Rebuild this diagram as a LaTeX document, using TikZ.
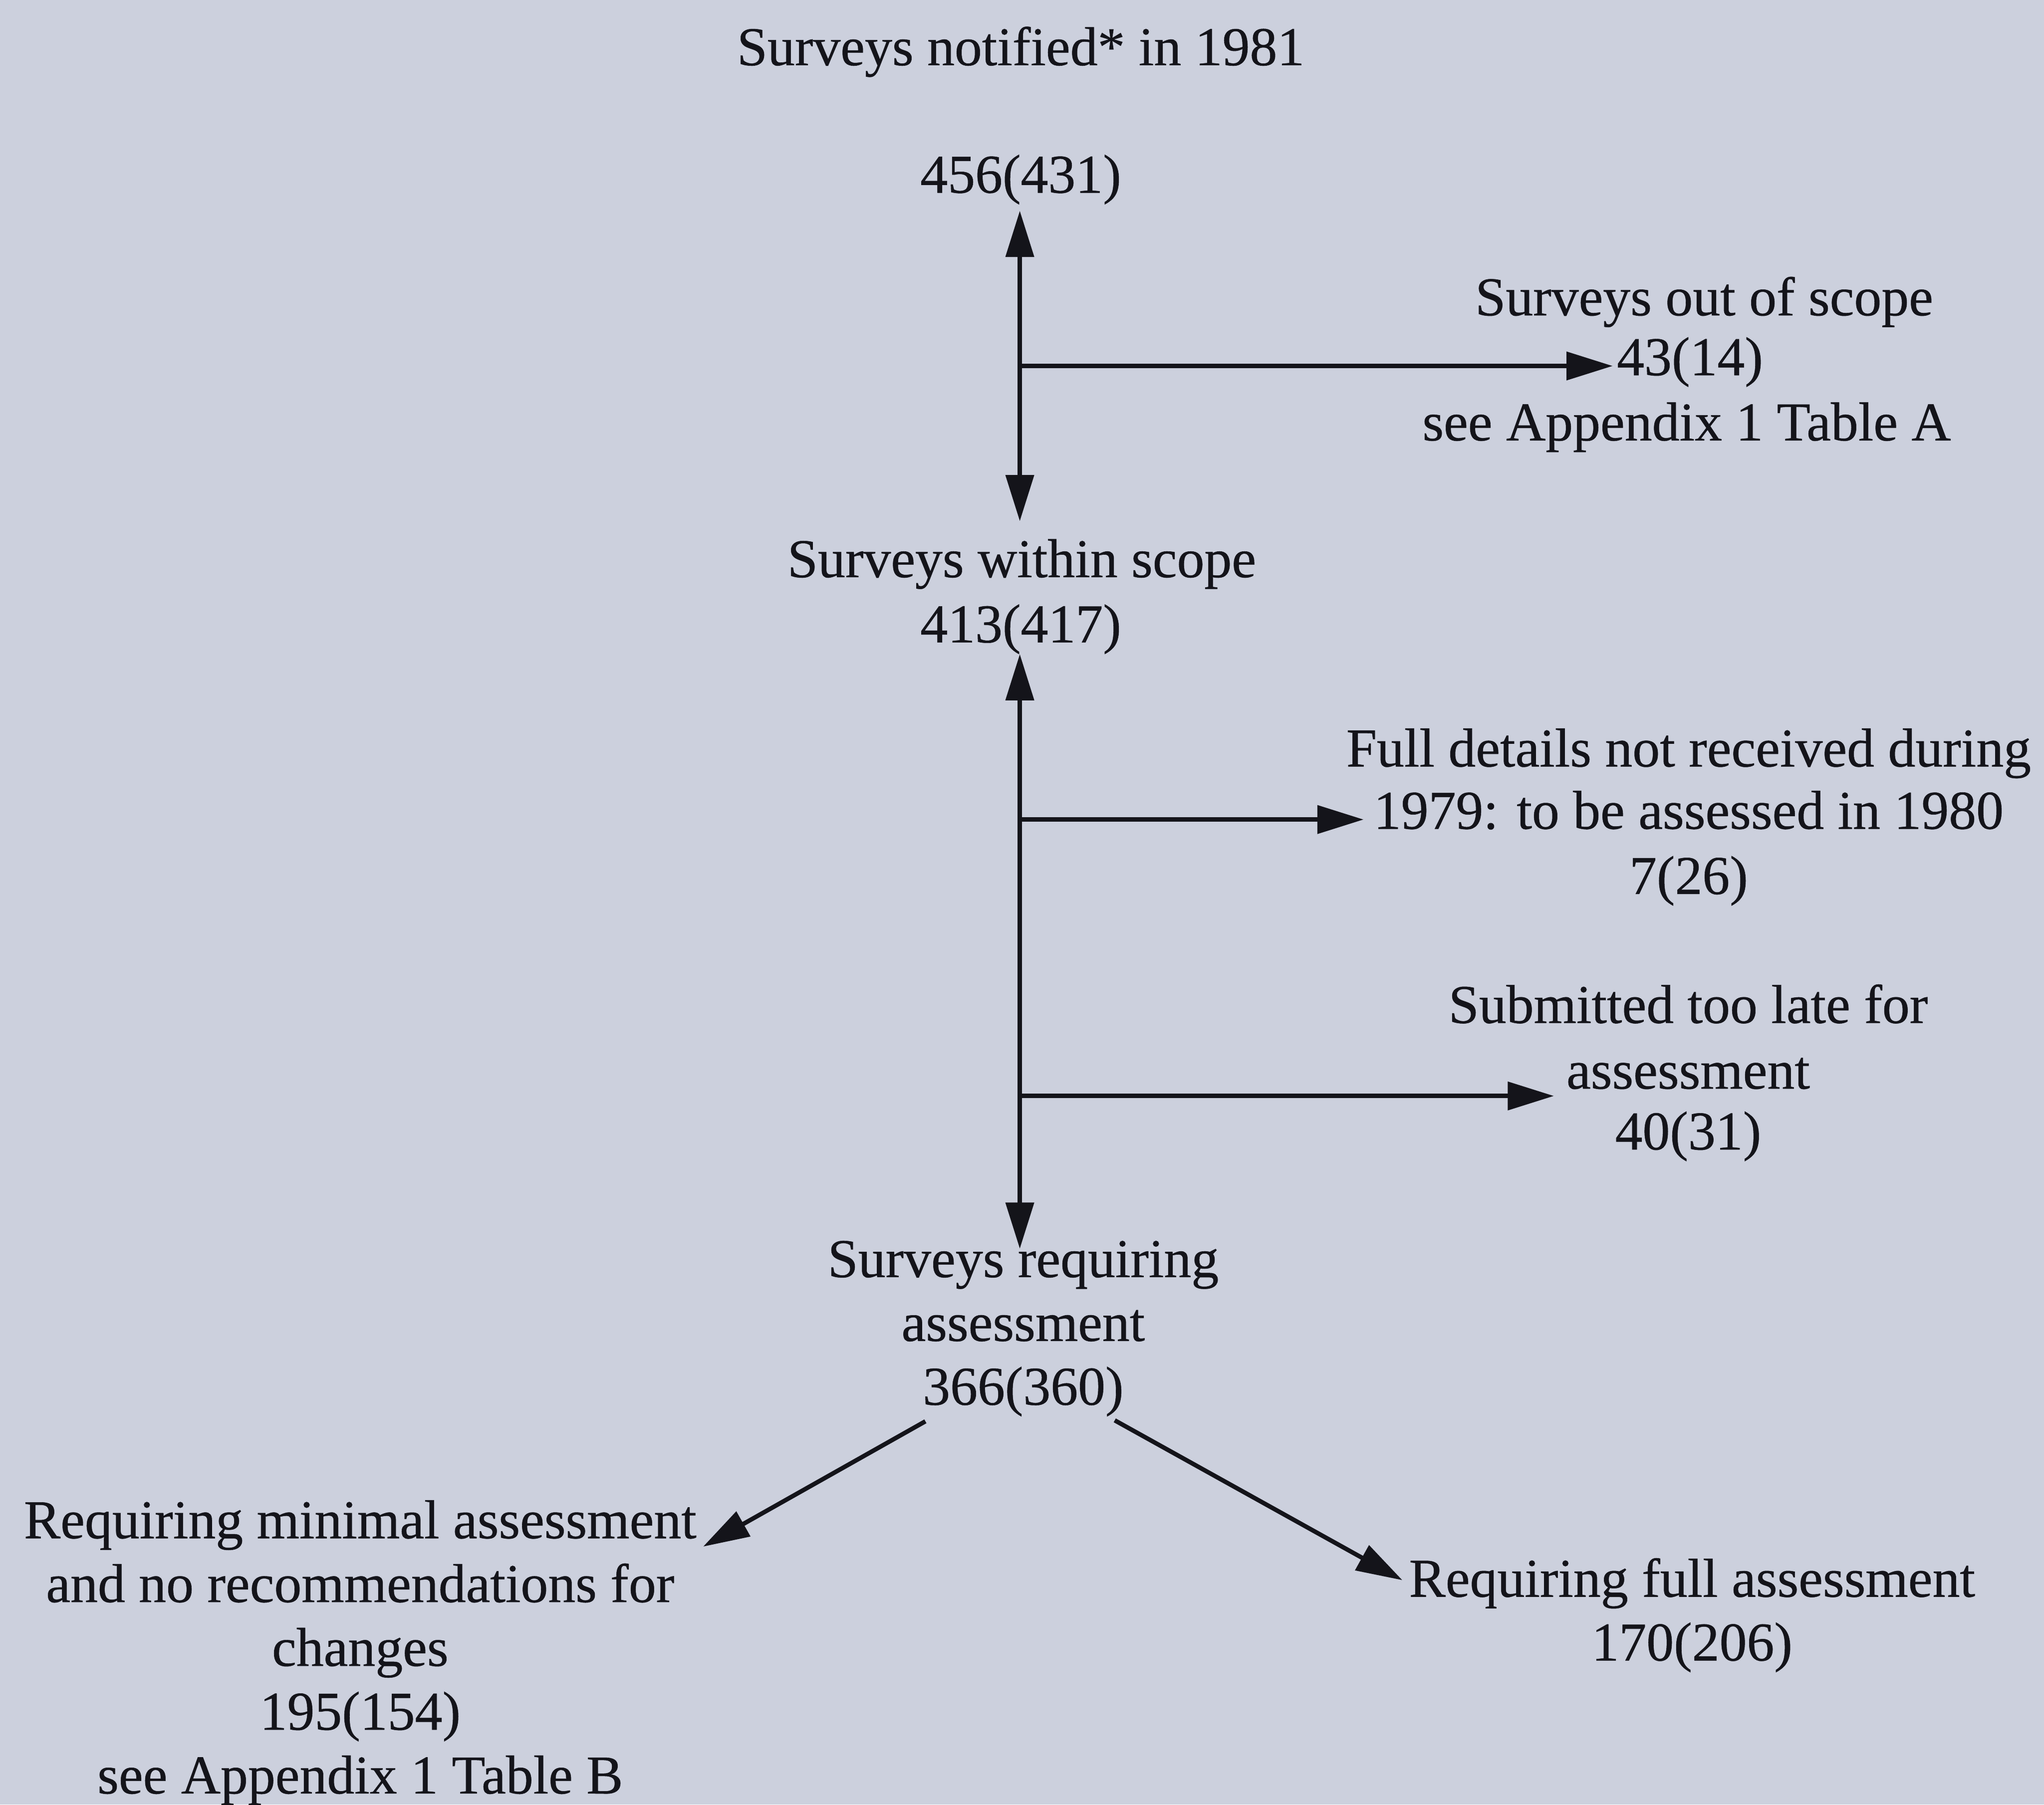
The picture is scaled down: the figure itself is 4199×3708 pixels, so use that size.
\documentclass[tikz,border=0pt]{standalone}
\usepackage{fontspec}
\setmainfont{Liberation Serif}[UprightFeatures={FakeBold=0.5}]
\usetikzlibrary{arrows.meta,calc}
\definecolor{bgc}{RGB}{204,208,221}
\definecolor{ink}{RGB}{20,20,26}
\begin{document}
\begin{tikzpicture}[x=0.01cm,y=-0.01cm,
  txt/.style={inner sep=0pt, text=ink, font=\fontsize{32}{37.29}\selectfont},
  blk/.style={txt, align=center, anchor=north, execute at begin node=\strut},
  lbl/.style={txt, anchor=base},
  con/.style={draw=ink, line width=0.09cm},
  arr/.style={con, -{Triangle[length=0.95cm,width=0.57cm]}},
  dbl/.style={con, {Triangle[length=0.95cm,width=0.57cm]}-{Triangle[length=0.95cm,width=0.57cm]}}]
\fill[bgc] (0,0) rectangle (4199,3708);
\useasboundingbox (0,0) rectangle (4199,3708);

% labels
\node[lbl] (title) at (2097,134) {Surveys notified* in 1981};
\node[lbl] (n456) at (2097,396) {456(431)};
\node[lbl] (out) at (3501,648) {Surveys out of scope};
\node[lbl, anchor=base west] (n43) at (3321,771) {43(14)};
\node[lbl] (appA) at (3465,905) {see Appendix 1 Table A};
\node[lbl] (within) at (2099,1186) {Surveys within scope};
\node[lbl] (n413) at (2097,1320) {413(417)};
\node[lbl] (full1) at (3469,1575) {Full details not received during};
\node[lbl] (full2) at (3469,1703) {1979: to be assessed in 1980};
\node[lbl] (n7) at (3469,1837) {7(26)};
\node[lbl] (late1) at (3468,2102) {Submitted too late for};
\node[lbl] (late2) at (3468,2237) {assessment};
\node[lbl] (n40) at (3468,2362) {40(31)};
\node[blk] (req) at (2102,2549) {Surveys requiring\\assessment\\366(360)};
\node[blk] (minimal) at (740,3082) {Requiring minimal assessment\\and no recommendations for\\changes\\195(154)\\see Appendix 1 Table B};
\node[blk] (rfull) at (3476,3201) {Requiring full assessment\\170(206)};

% branch points on the vertical lines
\coordinate (b1) at (2095,752);
\coordinate (b2) at (2095,1684);
\coordinate (b3) at (2095,2252);

% connectors
\draw[dbl] ($(n456.base)+(-2,37)$) -- ($(within.base)+(-4,-115)$);
\draw[arr] (b1) -- ($(b1 -| n43.west)+(-8,0)$);
\draw[dbl] ($(n413.base)+(-2,24)$) -- ($(req.north)+(-7,17)$);
\draw[arr] (b2) -- ($(b2 -| full2.west)+(-20,0)$);
\draw[arr] (b3) -- ($(b3 -| late2.west)+(-25,0)$);
\draw[arr] ($(req.south)+(-201,-6)$) -- ($(minimal.north east)+(13,96)$);
\draw[arr] ($(req.south)+(188,-8)$) -- ($(rfull.north west)+(-13,46)$);
\end{tikzpicture}
\end{document}
